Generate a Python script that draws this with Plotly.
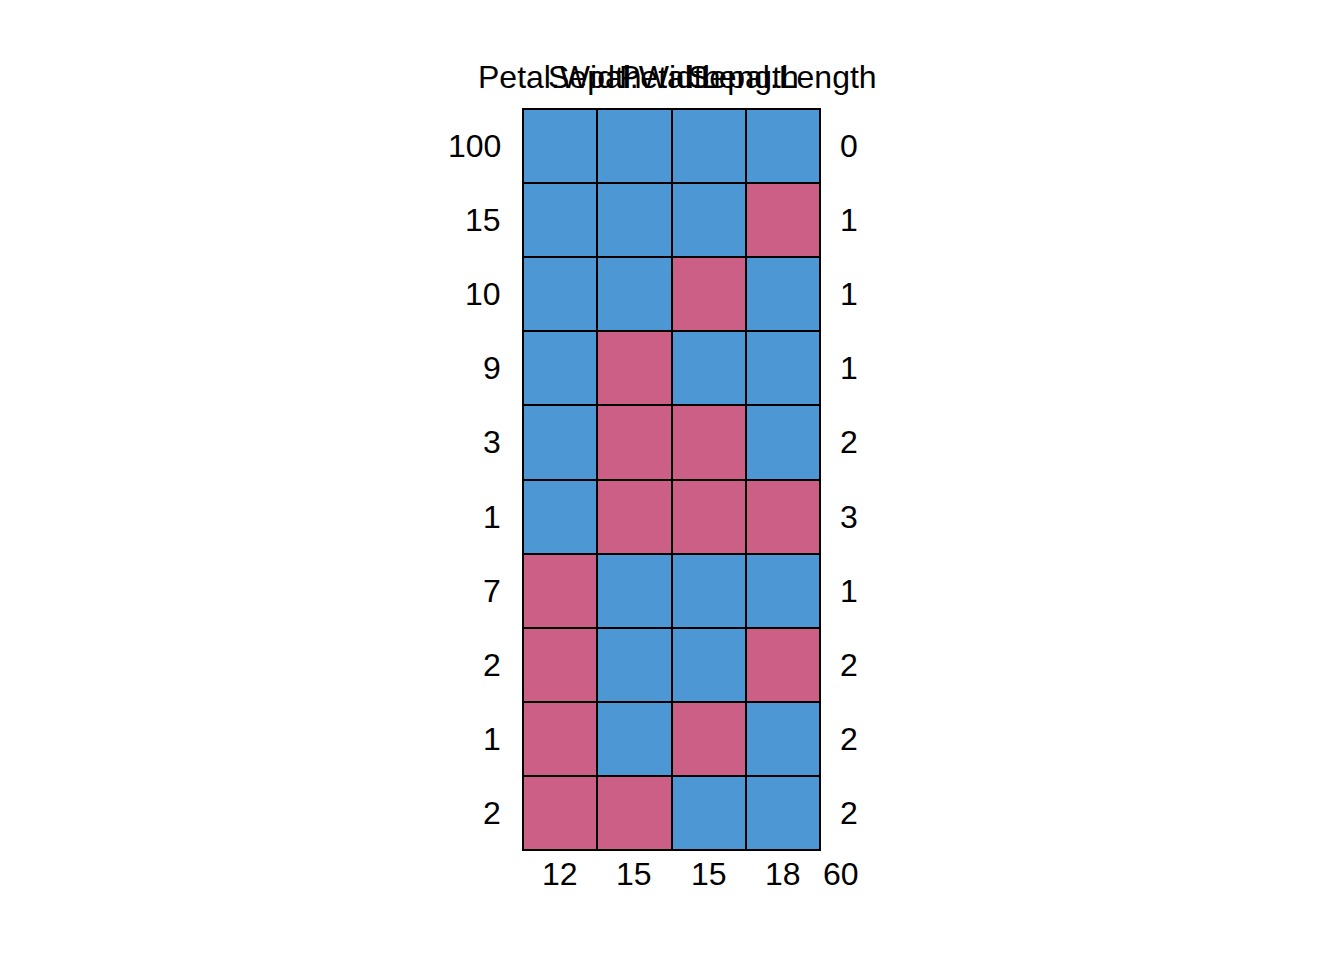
import plotly.graph_objects as go

variables = ["Petal.Width", "Sepal.Width", "Petal.Length", "Sepal.Length"]
row_counts = [100, 15, 10, 9, 3, 1, 7, 2, 1, 2]
# 1 = observed, 0 = missing
pattern = [
    [1, 1, 1, 1],
    [1, 1, 1, 0],
    [1, 1, 0, 1],
    [1, 0, 1, 1],
    [1, 0, 0, 1],
    [1, 0, 0, 0],
    [0, 1, 1, 1],
    [0, 1, 1, 0],
    [0, 1, 0, 1],
    [0, 0, 1, 1],
]
row_missing = [0, 1, 1, 1, 2, 3, 1, 2, 2, 2]
col_missing = [12, 15, 15, 18]
total_missing = 60

BLUE = "#4D98D4"
RED = "#CC5F85"
FONT = dict(family="Liberation Sans, Arial, sans-serif", size=32, color="black")

nrow = len(row_counts)
ncol = len(variables)

fig = go.Figure(
    go.Heatmap(
        z=pattern,
        x=list(range(ncol)),
        y=list(range(nrow)),
        colorscale=[[0, RED], [0.5, RED], [0.5, BLUE], [1, BLUE]],
        zmin=0, zmax=1,
        showscale=False,
        xgap=2, ygap=2,
        hoverinfo="skip",
    )
)

ann = []
for i, c in enumerate(row_counts):
    ann.append(dict(x=-0.5, y=i, xref="x", yref="y", text=str(c), showarrow=False,
                    xanchor="right", yanchor="middle", xshift=-20, font=FONT))
for i, m in enumerate(row_missing):
    ann.append(dict(x=ncol - 0.5, y=i, xref="x", yref="y", text=str(m), showarrow=False,
                    xanchor="left", yanchor="middle", xshift=18, font=FONT))
for j, m in enumerate(col_missing):
    ann.append(dict(x=j, y=nrow - 0.5, xref="x", yref="y", text=str(m), showarrow=False,
                    xanchor="center", yanchor="middle", yshift=-24, font=FONT))
for j, v in enumerate(variables):
    ann.append(dict(x=j, y=-0.5, xref="x", yref="y", text=v, showarrow=False,
                    xanchor="center", yanchor="middle", yshift=32, font=FONT))
ann.append(dict(x=ncol - 0.5, y=nrow - 0.5, xref="x", yref="y", text=str(total_missing),
                showarrow=False, xanchor="center", yanchor="middle", xshift=21, yshift=-24, font=FONT))

fig.update_layout(
    width=1344, height=960,
    margin=dict(l=0, r=0, t=0, b=0),
    paper_bgcolor="white",
    plot_bgcolor="black",
    annotations=ann,
    xaxis=dict(domain=[523 / 1344, 820 / 1344], range=[-0.5, ncol - 0.5],
               showgrid=False, zeroline=False, showticklabels=False, ticks="",
               showline=True, mirror=True, linecolor="black", linewidth=1, fixedrange=True),
    yaxis=dict(domain=[1 - 850 / 960, 1 - 109 / 960], range=[nrow - 0.5, -0.5],
               showgrid=False, zeroline=False, showticklabels=False, ticks="",
               showline=True, mirror=True, linecolor="black", linewidth=1, fixedrange=True),
)

fig.write_html("out.html")
